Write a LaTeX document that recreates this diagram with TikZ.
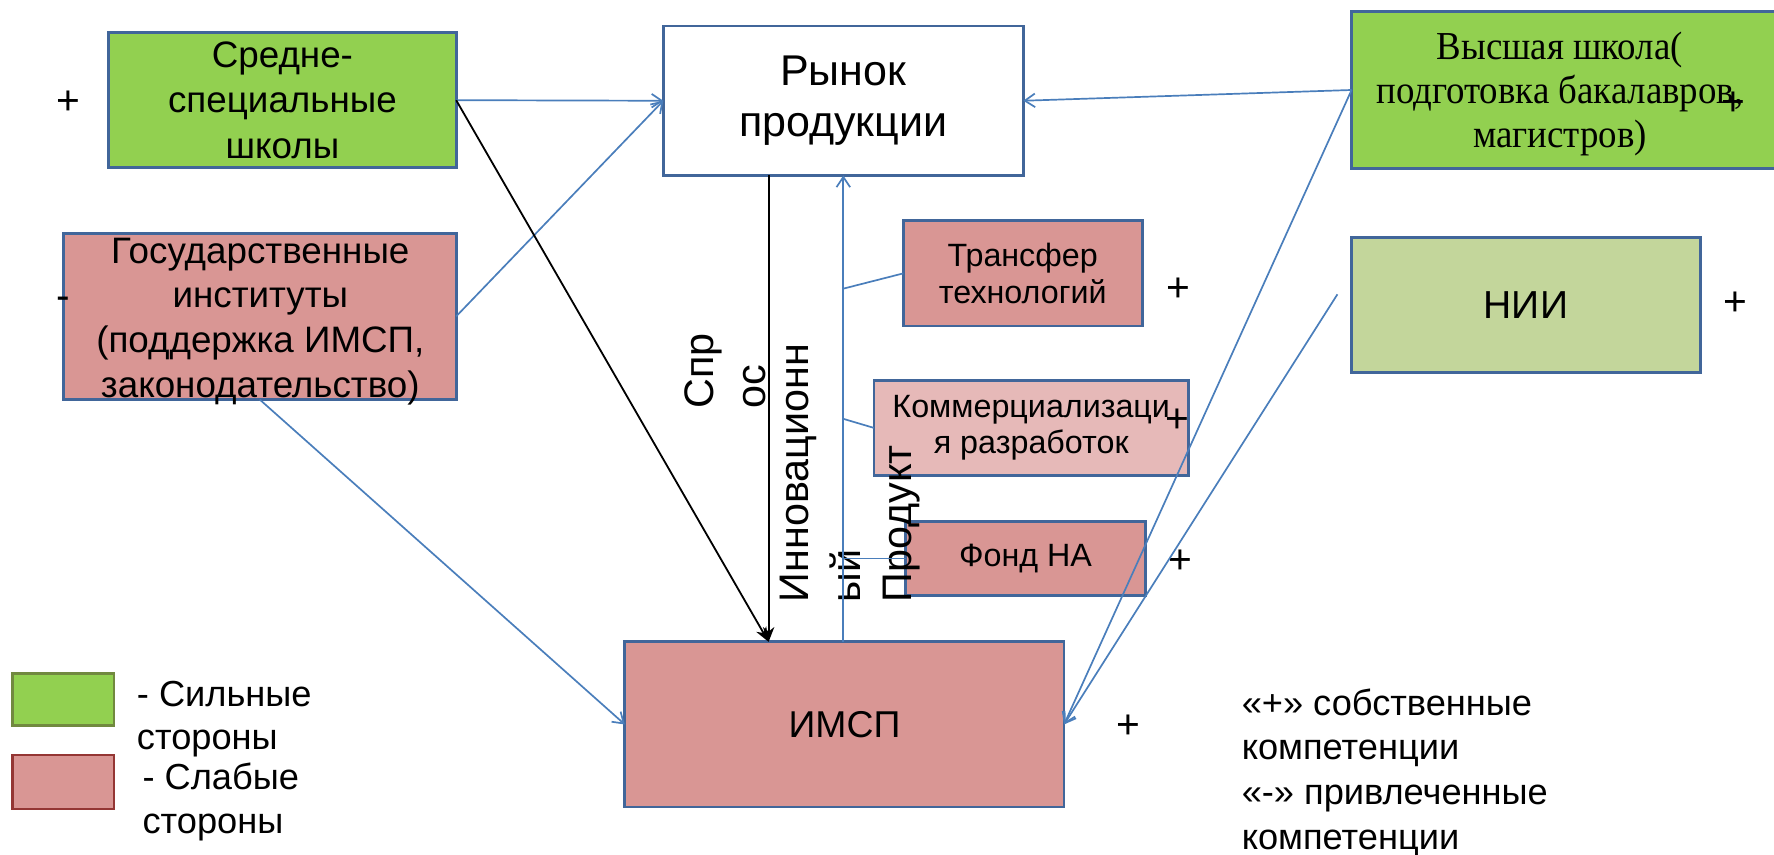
\documentclass[tikz,border=0pt]{standalone}
\usepackage{fontspec}
\setmainfont{Liberation Sans}
\newfontfamily\serifcond[FakeStretch=0.93]{Liberation Serif}
\usetikzlibrary{arrows.meta,calc}
\definecolor{grn}{HTML}{92D050}
\definecolor{pnk}{HTML}{D99694}
\definecolor{lpnk}{HTML}{E6B9B8}
\definecolor{olv}{HTML}{C3D69B}
\definecolor{bord}{HTML}{41669A}
\definecolor{conn}{HTML}{4A7EBB}
\definecolor{lgb}{HTML}{71893F}
\definecolor{lpb}{HTML}{943634}
\begin{document}
\begin{tikzpicture}[x=1pt,y=-1pt,
  box/.style={draw=bord, line width=2.4pt, inner sep=0pt, outer sep=0pt, anchor=north west, align=center},
  txt/.style={inner sep=0pt, outer sep=0pt, align=center},
  fA/.style={font=\fontsize{32.5}{40}\selectfont},
  fB/.style={font=\fontsize{28.5}{32.4}\selectfont},
  fR/.style={font=\fontsize{36.5}{45}\selectfont},
  sign/.style={inner sep=0pt, font=\fontsize{36}{40}\selectfont},
  bl/.style={draw=conn, line width=1.5pt},
  blarr/.style={bl, -{Straight Barb[length=9pt,width=12pt,line width=1.5pt]}},
  blk/.style={draw=black, line width=1.6pt, -{Stealth[length=13pt,width=10pt,inset=4pt]}},
  rot/.style={inner sep=0pt, outer sep=0pt, rotate=90, anchor=base west, fR}
]
\useasboundingbox (0,0) rectangle (1567.2,755.3);

% boxes
\node[box, fill=grn, minimum width=307pt, minimum height=119pt, fA] (sredne) at (96,29) {Средне-\\специальные\\школы};
\node[box, fill=white, minimum width=318pt, minimum height=132pt, font=\fontsize{38}{45.5}\selectfont] (rynok) at (586,23) {Рынок\\продукции};
\node[box, fill=grn, minimum width=572pt, minimum height=139pt] (vs) at (1194,10) {};
\node[txt, font=\serifcond\fontsize{35}{39}\selectfont] (vsT) at (1378,83) {Высшая школа(\\подготовка бакалавров,\\магистров)};
\node[box, fill=pnk, minimum width=347pt, minimum height=147pt] (gos) at (56,206) {};
\node[txt, font=\fontsize{32.5}{39.5}\selectfont] (gosT) at (230,284) {Государственные\\институты\\(поддержка ИМСП,\\законодательство)};
\node[box, fill=pnk, minimum width=211pt, minimum height=93pt, fB] (transfer) at (798,195) {Трансфер\\технологий};
\node[box, fill=lpnk, minimum width=278pt, minimum height=84pt, fB] (kommerc) at (772,336) {Коммерциализаци\\я разработок};
\node[box, fill=pnk, minimum width=212pt, minimum height=65pt, fB] (fond) at (800,461) {Фонд НА};
\node[box, fill=pnk, minimum width=388pt, minimum height=146pt, font=\fontsize{33}{38}\selectfont] (imsp) at (552,567) {ИМСП};
\node[box, fill=olv, minimum width=308pt, minimum height=119pt, font=\fontsize{34.5}{38}\selectfont] (nii) at (1194,210) {НИИ};

% legend
\node[draw=lgb, fill=grn, line width=2pt, minimum width=90pt, minimum height=46pt, inner sep=0pt, anchor=north west] (lg) at (10,594) {};
\node[draw=lpb, fill=pnk, line width=2pt, minimum width=90pt, minimum height=48pt, inner sep=0pt, anchor=north west] (lp) at (10,666) {};
\node[txt, align=left, anchor=west, font=\fontsize{32}{38.5}\selectfont] (lgT) at (121,635.4) {- Сильные\\стороны};
\node[txt, align=left, anchor=west, font=\fontsize{32}{39.6}\selectfont] (lpT) at (126,708.4) {- Слабые\\стороны};
\node[txt, align=left, anchor=west, font=\fontsize{32}{39.5}\selectfont] (note) at (1097,682.4) {«+» собственные\\компетенции\\«-» привлеченные\\компетенции};

% signs
\node[sign] (s1) at (60,91) {+};
\node[sign] (s2) at (56,268) {-};
\node[sign] (s3) at (1041,256) {+};
\node[sign] (s4) at (1040,372) {+};
\node[sign] (s5) at (1043,496) {+};
\node[sign] (s6) at (997,642) {+};
\node[sign] (s7) at (1531,92) {+};
\node[sign] (s8) at (1533,268) {+};

% rotated labels
\node[rot] (spr) at (630,361) {Спр};
\node[rot] (os) at (676,361) {ос};
\node[rot] (inn1) at (714,532) {Инновационн};
\node[rot] (inn2) at (760,532) {ый};
\node[rot] (inn3) at (805,532) {Продукт};

% junction points
\coordinate (fj) at (rynok.south |- fond.west);
\coordinate (tj) at (745,255);
\coordinate (kj) at (745,370);
\coordinate (niiend) at (1181.5,260);

% connectors
\draw[blarr] (sredne.east) -- (rynok.west);
\draw[blarr] (gos.east) -- (rynok.west);
\draw[blk] (sredne.east) -- ([xshift=-67pt]imsp.north);
\draw[blk] ([xshift=-66pt]rynok.south) -- ([xshift=-67pt]imsp.north);
\draw[blarr] (gos.south) -- (imsp.west);
\draw[blarr] (rynok.south |- imsp.north) -- (rynok.south);
\draw[bl] (fond.west) -- (fj);
\draw[bl] (transfer.west) -- (tj);
\draw[bl] (kommerc.west) -- (kj);
\draw[blarr] (vs.west) -- (rynok.east);
\draw[blarr] (vs.west) -- (imsp.east);
\draw[blarr] (niiend) -- (imsp.east);
\end{tikzpicture}
\end{document}
